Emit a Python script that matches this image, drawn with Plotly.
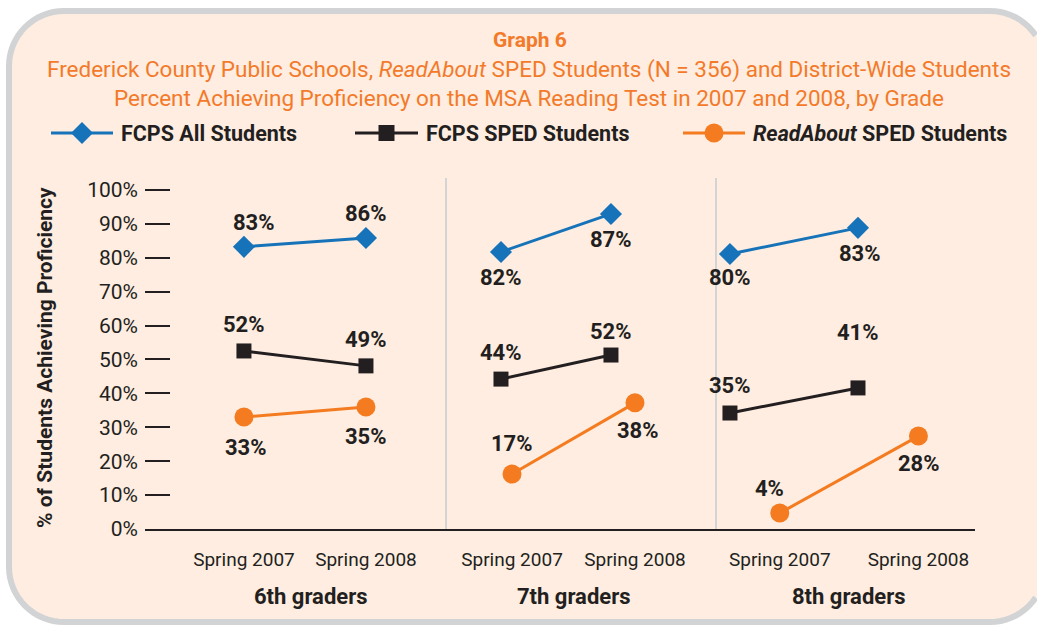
"""Graph 6: MSA reading proficiency by grade, FCPS vs ReadAbout SPED students."""

import math

import plotly.graph_objects as go

W, H = 1037, 628

seasons = ["Spring 2007", "Spring 2008"]
grades = ["6th graders", "7th graders", "8th graders"]

# marker heights as drawn in the original chart (percent)
all_students = [[83.2, 85.8], [81.7, 92.9], [81.1, 88.8]]
sped_students = [[52.5, 48.1], [44.2, 51.3], [34.2, 41.6]]
readabout_students = [[33.0, 36.0], [16.2, 37.2], [4.7, 27.4]]

# printed data labels
all_labels = [[83, 86], [82, 87], [80, 83]]
sped_labels = [[52, 49], [44, 52], [35, 41]]
readabout_labels = [[33, 35], [17, 38], [4, 28]]

y_ticks = list(range(0, 101, 10))

BLUE = "#1673B9"
BLACK = "#231F20"
ORANGE = "#F47B20"
TITLE_ORANGE = "#F37A2A"
FONT = "Roboto"

# label offsets in px (dy > 0 means above the marker)
all_dy = [[24, 25], [-26, -26], [-24, -26]]
sped_dy = [[26, 26], [27, 24], [28, 55]]
readabout_dy = [[-30, -30], [31, -28], [25, -27]]
all_dx = [[10, 0], [0, 0], [0, 2]]
readabout_dx = [[2, 0], [0, 3], [-10, 1]]


def px(x):
    return x / W


def py(y):
    return 1 - y / H


def P(x, y):
    return f"{px(x):.5f},{py(y):.5f}"


def arc(cx, cy, r, a0, a1, n=16):
    """Points along a circle arc (angles in degrees, screen y down), clipped to the page width."""
    pts = []
    for s in range(n + 1):
        a = math.radians(a0 + (a1 - a0) * s / n)
        x, y = cx + r * math.cos(a), cy - r * math.sin(a)
        if x <= W - 1:
            pts.append((x, y))
    return pts


# axis ids per grade panel: orange series sits on the tick axis,
# blue/black series use an overlay axis in panels 2 and 3 (as drawn in the source)
tick_axes = ["x", "x2", "x3"]
line_axes = ["x", "x4", "x5"]

fig = go.Figure()

for i in range(3):
    fig.add_trace(go.Scatter(
        x=seasons, y=all_students[i], xaxis=line_axes[i], yaxis="y",
        mode="lines+markers", line=dict(color=BLUE, width=3),
        marker=dict(symbol="diamond", size=17, color=BLUE),
        cliponaxis=False, showlegend=False, hoverinfo="skip",
    ))
    fig.add_trace(go.Scatter(
        x=seasons, y=sped_students[i], xaxis=line_axes[i], yaxis="y",
        mode="lines+markers", line=dict(color=BLACK, width=3),
        marker=dict(symbol="square", size=15, color=BLACK),
        cliponaxis=False, showlegend=False, hoverinfo="skip",
    ))
    fig.add_trace(go.Scatter(
        x=seasons, y=readabout_students[i], xaxis=tick_axes[i], yaxis="y",
        mode="lines+markers", line=dict(color=ORANGE, width=3),
        marker=dict(symbol="circle", size=19, color=ORANGE),
        cliponaxis=False, showlegend=False, hoverinfo="skip",
    ))

annotations = []
label_font = dict(family=FONT, size=22, color=BLACK)
for i in range(3):
    for j in range(2):
        for vals, labels, axes, dy, dx in [
            (all_students, all_labels, line_axes, all_dy, all_dx),
            (sped_students, sped_labels, line_axes, sped_dy, None),
            (readabout_students, readabout_labels, tick_axes, readabout_dy, readabout_dx),
        ]:
            annotations.append(dict(
                x=seasons[j], y=vals[i][j], xref=axes[i], yref="y",
                xanchor="center", yanchor="middle",
                text=f"<b>{labels[i][j]}%</b>", showarrow=False,
                xshift=dx[i][j] if dx else 0, yshift=dy[i][j],
                font=label_font,
            ))

# grade group labels
for i, g in enumerate(grades):
    annotations.append(dict(
        x=0.5, y=py(596), xref=tick_axes[i], yref="paper",
        xanchor="center", yanchor="middle",
        text=f"<b>{g}</b>", showarrow=False, xshift=6 if i == 0 else 0,
        font=dict(family=FONT, size=22, color=BLACK),
    ))

# titles
annotations += [
    dict(x=px(530), y=py(40), xref="paper", yref="paper", showarrow=False,
         xanchor="center", yanchor="middle",
         text="<b>Graph 6</b>", font=dict(family=FONT, size=21, color=TITLE_ORANGE)),
    dict(x=px(529), y=py(84), xref="paper", yref="paper", showarrow=False,
         xanchor="center", yanchor="middle",
         text=("Frederick County Public Schools, <i>ReadAbout</i> SPED Students (N = 356) "
               "and District-Wide Students<br>Percent Achieving Proficiency on the MSA "
               "Reading Test in 2007 and 2008, by Grade"),
         font=dict(family=FONT, size=22.5, color=TITLE_ORANGE)),
    dict(x=px(45), y=py(358), xref="paper", yref="paper", showarrow=False,
         xanchor="center", yanchor="middle",
         textangle=-90, text="<b>% of Students Achieving Proficiency</b>",
         font=dict(family=FONT, size=21, color=BLACK)),
]

shapes = []

# rounded panel background; its right side runs past the page edge
x0, x1, y0, y1, r = 9, 1045, 11, 622, 55
top_right = arc(x1 - r, y0 + r, r, 90, 0)
bottom_right = arc(x1 - r, y1 - r, r, 0, -90)
bottom_left = arc(x0 + r, y1 - r, r, -90, -180)
top_left = arc(x0 + r, y0 + r, r, 180, 90)
outline = top_right[::-1] + top_left[::-1] + bottom_left[::-1] + bottom_right[::-1]
fill_pts = top_left + top_right + [(W, top_right[-1][1]), (W, bottom_right[0][1])] + bottom_right + bottom_left
shapes.append(dict(type="path", xref="paper", yref="paper", layer="below",
                   path="M" + " L".join(P(x, y) for x, y in fill_pts) + " Z",
                   fillcolor="#FEEDE0", line=dict(width=0)))
shapes.append(dict(type="path", xref="paper", yref="paper", layer="below",
                   path="M" + " L".join(P(x, y) for x, y in outline),
                   fillcolor="rgba(0,0,0,0)", line=dict(color="#D1D3D4", width=6)))

# legend (drawn by hand to match the long symbol lines)
legend_items = [
    (51, 113, BLUE, "diamond", "<b>FCPS All Students</b>"),
    (355, 418, BLACK, "square", "<b>FCPS SPED Students</b>"),
    (683, 745, ORANGE, "circle", "<b><i>ReadAbout</i> SPED Students</b>"),
]
ly = 133
for lx0, lx1, col, sym, txt in legend_items:
    cx = (lx0 + lx1) / 2
    shapes.append(dict(type="line", xref="paper", yref="paper",
                       x0=px(lx0), x1=px(lx1), y0=py(ly), y1=py(ly),
                       line=dict(color=col, width=3)))
    if sym == "diamond":
        shapes.append(dict(type="path", xref="paper", yref="paper",
                           path=f"M{P(cx - 11, ly)} L{P(cx, ly - 11)} L{P(cx + 11, ly)} L{P(cx, ly + 11)} Z",
                           fillcolor=col, line=dict(width=0)))
    elif sym == "square":
        shapes.append(dict(type="rect", xref="paper", yref="paper",
                           x0=px(cx - 8), x1=px(cx + 8), y0=py(ly - 8), y1=py(ly + 8),
                           fillcolor=col, line=dict(width=0)))
    else:
        shapes.append(dict(type="circle", xref="paper", yref="paper",
                           x0=px(cx - 9.5), x1=px(cx + 9.5), y0=py(ly - 9.5), y1=py(ly + 9.5),
                           fillcolor=col, line=dict(width=0)))
    annotations.append(dict(x=px(lx1 + 6), y=py(ly), xref="paper", yref="paper",
                            xanchor="left", yanchor="middle", showarrow=False, text=txt,
                            font=dict(family=FONT, size=21.5, color=BLACK)))

# panel separators
for sx in (446, 716):
    shapes.append(dict(type="line", xref="paper", yref="paper",
                       x0=px(sx), x1=px(sx), y0=py(529), y1=py(178),
                       line=dict(color="#C5CBD1", width=1.5)))

base_x = dict(
    type="category", categoryorder="array", categoryarray=seasons,
    showline=True, linecolor=BLACK, linewidth=2, ticks="", showgrid=False,
    zeroline=False, tickfont=dict(family=FONT, size=19, color=BLACK),
    ticklabelstandoff=12, anchor="y", fixedrange=True, automargin=False,
)
hidden_x = dict(type="category", categoryorder="array", categoryarray=seasons,
                visible=False, anchor="y", fixedrange=True, automargin=False)

fig.update_layout(
    template="none",
    width=W, height=H, autosize=False,
    margin=dict(l=0, r=0, t=0, b=0, pad=0, autoexpand=False),
    paper_bgcolor="white",
    plot_bgcolor="rgba(0,0,0,0)",
    showlegend=False,
    font=dict(family=FONT, color=BLACK),
    xaxis=dict(**base_x, domain=[px(145), px(446)], range=[-0.811, 1.656]),
    xaxis2=dict(**base_x, domain=[px(446), px(716)], range=[-0.537, 1.659]),
    xaxis3=dict(**base_x, domain=[px(716), px(975)], range=[-0.46, 1.408]),
    xaxis4=dict(**hidden_x, overlaying="x2", range=[-0.5, 1.955]),
    xaxis5=dict(**hidden_x, overlaying="x3", range=[-0.109, 1.914]),
    yaxis=dict(
        domain=[py(529), py(178)], range=[0, 103.5], anchor="x",
        tickvals=y_ticks, ticktext=[f"{v}%" for v in y_ticks],
        ticks="inside", ticklen=25, tickwidth=2, tickcolor=BLACK,
        showline=False, showgrid=False, zeroline=False,
        tickfont=dict(family=FONT, size=21, color=BLACK),
        ticklabelstandoff=6, fixedrange=True, automargin=False,
    ),
    shapes=shapes,
    annotations=annotations,
)

# pin the page to exactly the figure size
page_css = (
    "var gd=document.getElementById('{plot_id}');"
    "[document.documentElement, document.body, gd.parentElement].forEach(function(el){"
    "el.style.margin='0';el.style.padding='0';el.style.overflow='hidden';"
    f"el.style.width='{W}px';el.style.height='{H}px';}});"
)

fig.write_html("out.html", config={"displayModeBar": False, "responsive": False},
               post_script=page_css)
